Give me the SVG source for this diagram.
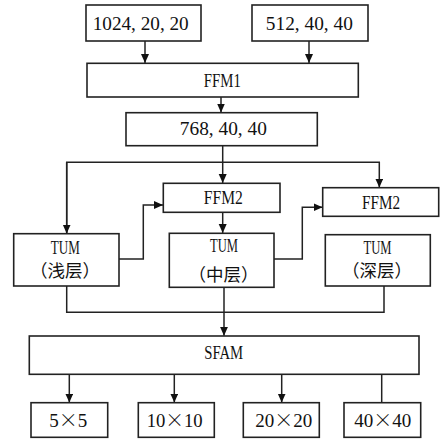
<svg xmlns="http://www.w3.org/2000/svg" width="441" height="440" viewBox="0 0 441 440">
  <style>
    .box { fill: #fff; stroke: #222; stroke-width: 1.6; }
    .wire { fill: none; stroke: #222; stroke-width: 1.5; }
    .lbl { font-family: "Liberation Serif", "Noto Sans CJK SC", serif; font-size: 19px; fill: #111; text-anchor: middle; }
    .cjk { font-family: "Noto Sans CJK SC", sans-serif; font-size: 17.5px; fill: #111; text-anchor: middle; }
    .x { font-family: "Noto Sans CJK SC", sans-serif; font-weight: 300; }
  </style>
  <defs>
    <marker id="arrow" markerUnits="userSpaceOnUse" markerWidth="10" markerHeight="10" refX="9" refY="4" orient="auto">
      <path d="M0,0 L9,4 L0,8 Z" fill="#111"/>
    </marker>
  </defs>
  <rect width="441" height="440" fill="#fff"/>

  <g id="connectors">
    <path class="wire" d="M145 40.7 V63" marker-end="url(#arrow)"/>
    <path class="wire" d="M309 41 V63" marker-end="url(#arrow)"/>
    <path class="wire" d="M221 97 V112.5" marker-end="url(#arrow)"/>
    <path class="wire" d="M222.7 145.7 V183" marker-end="url(#arrow)"/>
    <path class="wire" d="M66.7 233.5 V162.3 H379.3 V187.5" marker-end="url(#arrow)"/>
    <path class="wire" d="M66.7 162.3 V233.5" marker-end="url(#arrow)"/>
    <path class="wire" d="M222.7 212.3 V233" marker-end="url(#arrow)"/>
    <path class="wire" d="M119 259 H143.3 V205 H163" marker-end="url(#arrow)"/>
    <path class="wire" d="M274 259 H302.3 V207.3 H322.5" marker-end="url(#arrow)"/>
    <path class="wire" d="M66.7 286 V312.3 H384 V286"/>
    <path class="wire" d="M224 287.3 V335.8" marker-end="url(#arrow)"/>
    <path class="wire" d="M69.3 374.3 V402.5" marker-end="url(#arrow)"/>
    <path class="wire" d="M174.3 374.3 V402.5" marker-end="url(#arrow)"/>
    <path class="wire" d="M281.7 374.3 V402.5" marker-end="url(#arrow)"/>
    <path class="wire" d="M381.7 373 V402.7"/>
  </g>

  <g id="in1024">
    <rect class="box" x="86" y="5" width="115" height="36"/>
    <text class="lbl" x="140.7" y="29.5" textLength="96" lengthAdjust="spacingAndGlyphs">1024, 20, 20</text>
  </g>
  <g id="in512">
    <rect class="box" x="252" y="5" width="116" height="36"/>
    <text class="lbl" x="309.3" y="29.5" textLength="87" lengthAdjust="spacingAndGlyphs">512, 40, 40</text>
  </g>
  <g id="ffm1">
    <rect class="box" x="87" y="63.3" width="271.3" height="33.7"/>
    <text class="lbl" x="222.3" y="87.3" textLength="37" lengthAdjust="spacingAndGlyphs">FFM1</text>
  </g>
  <g id="f768">
    <rect class="box" x="126" y="112.7" width="191.3" height="33"/>
    <text class="lbl" x="223.3" y="135" textLength="87" lengthAdjust="spacingAndGlyphs">768, 40, 40</text>
  </g>
  <g id="ffm2a">
    <rect class="box" x="163.3" y="183.3" width="116.7" height="29"/>
    <text class="lbl" x="223.3" y="204.3" textLength="39" lengthAdjust="spacingAndGlyphs">FFM2</text>
  </g>
  <g id="ffm2b">
    <rect class="box" x="322.7" y="187.7" width="116" height="28.6"/>
    <text class="lbl" x="381" y="208.7" textLength="38" lengthAdjust="spacingAndGlyphs">FFM2</text>
  </g>
  <g id="tum1">
    <rect class="box" x="13.7" y="233.7" width="105.3" height="52.3"/>
    <text class="lbl" x="65.3" y="254.3" textLength="29" lengthAdjust="spacingAndGlyphs">TUM</text>
    <text class="cjk" x="65" y="277">（浅层）</text>
  </g>
  <g id="tum2">
    <rect class="box" x="169.3" y="233.3" width="104.7" height="54"/>
    <text class="lbl" x="224" y="252.3" textLength="28" lengthAdjust="spacingAndGlyphs">TUM</text>
    <text class="cjk" x="223.5" y="280.5">（中层）</text>
  </g>
  <g id="tum3">
    <rect class="box" x="325.3" y="234.7" width="105" height="51.3"/>
    <text class="lbl" x="377.5" y="254.3" textLength="28" lengthAdjust="spacingAndGlyphs">TUM</text>
    <text class="cjk" x="377" y="277">（深层）</text>
  </g>
  <g id="sfam">
    <rect class="box" x="29.3" y="336" width="389.7" height="38.3"/>
    <text class="lbl" x="223.7" y="359" textLength="39" lengthAdjust="spacingAndGlyphs">SFAM</text>
  </g>
  <g id="out5">
    <rect class="box" x="31" y="402.7" width="76.7" height="34.6"/>
    <text class="lbl" x="68.3" y="426.7" textLength="38" lengthAdjust="spacingAndGlyphs">5<tspan class="x">×</tspan>5</text>
  </g>
  <g id="out10">
    <rect class="box" x="138.3" y="402.7" width="76" height="34.6"/>
    <text class="lbl" x="174.7" y="426.7" textLength="56" lengthAdjust="spacingAndGlyphs">10<tspan class="x">×</tspan>10</text>
  </g>
  <g id="out20">
    <rect class="box" x="243.3" y="402.7" width="76" height="34.6"/>
    <text class="lbl" x="283.7" y="426.7" textLength="57" lengthAdjust="spacingAndGlyphs">20<tspan class="x">×</tspan>20</text>
  </g>
  <g id="out40">
    <rect class="box" x="344" y="402.7" width="76.7" height="34.6"/>
    <text class="lbl" x="382.7" y="426.7" textLength="57" lengthAdjust="spacingAndGlyphs">40<tspan class="x">×</tspan>40</text>
  </g>
</svg>
